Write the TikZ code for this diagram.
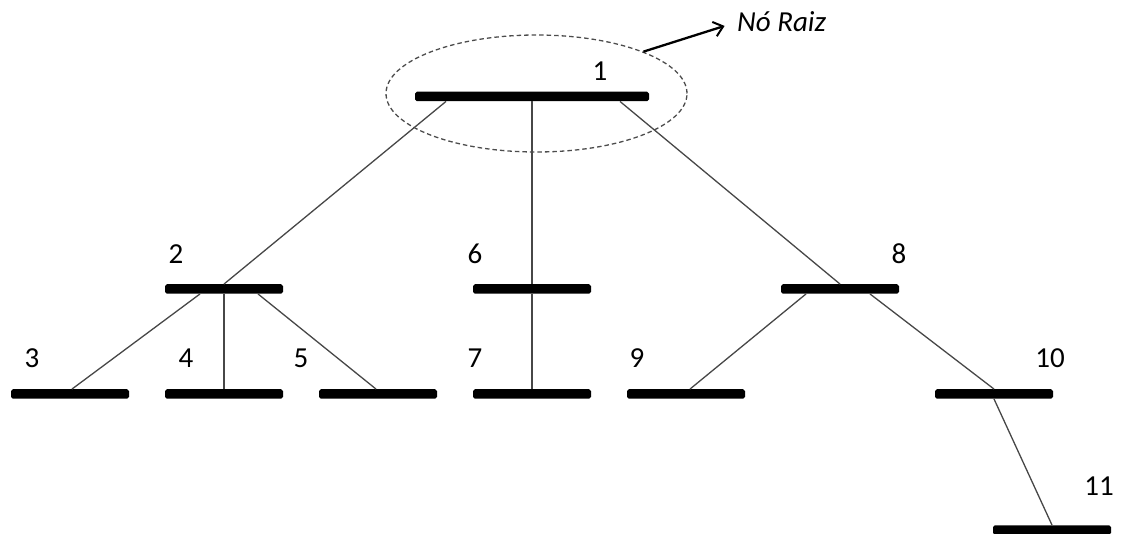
\documentclass[tikz,border=0pt]{standalone}
\usepackage{fontspec}
\setmainfont{Carlito}
\usetikzlibrary{shapes.geometric,arrows.meta}
\begin{document}
\begin{tikzpicture}[x=1pt,y=-1pt,
  bar/.style={fill=black,draw=none,rectangle,rounded corners=1.8pt,
    minimum width=118pt,minimum height=9.5pt,inner sep=0pt},
  link/.style={draw=black!72,line width=1.3pt},
  num/.style={font=\fontsize{29}{33}\selectfont,inner sep=0pt}]
\useasboundingbox (0,0) rectangle (1122,534);

% buses
\node[bar,minimum width=234pt] (b1) at (532,96.5) {};
\node[bar] (b2) at (224,289) {};
\node[bar] (b6) at (532,289) {};
\node[bar] (b8) at (840,289) {};
\node[bar] (b3) at (70,394) {};
\node[bar] (b4) at (224,394) {};
\node[bar] (b5) at (378,394) {};
\node[bar] (b7) at (532,394) {};
\node[bar] (b9) at (686,394) {};
\node[bar] (b10) at (994,394) {};
\node[bar] (b11) at (1052,530) {};

% bus numbers
\node[num] (n1) at (600,71) {1};
\node[num] (n2) at (176,254) {2};
\node[num] (n6) at (475,254) {6};
\node[num] (n8) at (899,254) {8};
\node[num] (n3) at (32,358) {3};
\node[num] (n4) at (186,358) {4};
\node[num] (n5) at (301,358) {5};
\node[num] (n7) at (475,358) {7};
\node[num] (n9) at (637,358) {9};
\node[num] (n10) at (1050,358) {10};
\node[num] (n11) at (1099,486) {11};

% branches
\draw[link] ([xshift=-86pt]b1.south) -- (b2.north);
\draw[link] (b1.south) -- (b6.north);
\draw[link] ([xshift=88pt]b1.south) -- (b8.north);
\draw[link] (b6.south) -- (b7.north);
\draw[link] ([xshift=-24pt]b2.south) -- ([xshift=2pt]b3.north);
\draw[link] (b2.south) -- (b4.north);
\draw[link] ([xshift=34pt]b2.south) -- ([xshift=-2pt]b5.north);
\draw[link] ([xshift=-34pt]b8.south) -- ([xshift=4pt]b9.north);
\draw[link] ([xshift=30pt]b8.south) -- (b10.north);
\draw[link] (b10.south) -- (b11.north);

% root marker
\node[ellipse,draw=black!70,dash pattern=on 4.5pt off 3pt,line width=1.3pt,
  minimum width=301pt,minimum height=117pt,inner sep=0pt] (rootmark) at (536.5,93.5) {};
\node[anchor=west,inner sep=0pt,font=\fontsize{29}{33}\selectfont\itshape] (rootlbl) at (737,22) {Nó Raiz};
\draw[line width=2.3pt,-{Straight Barb[length=9pt,width=15pt,line width=2pt]},shorten >=13pt]
  (rootmark.north east) -- (rootlbl.west);
\end{tikzpicture}
\end{document}
